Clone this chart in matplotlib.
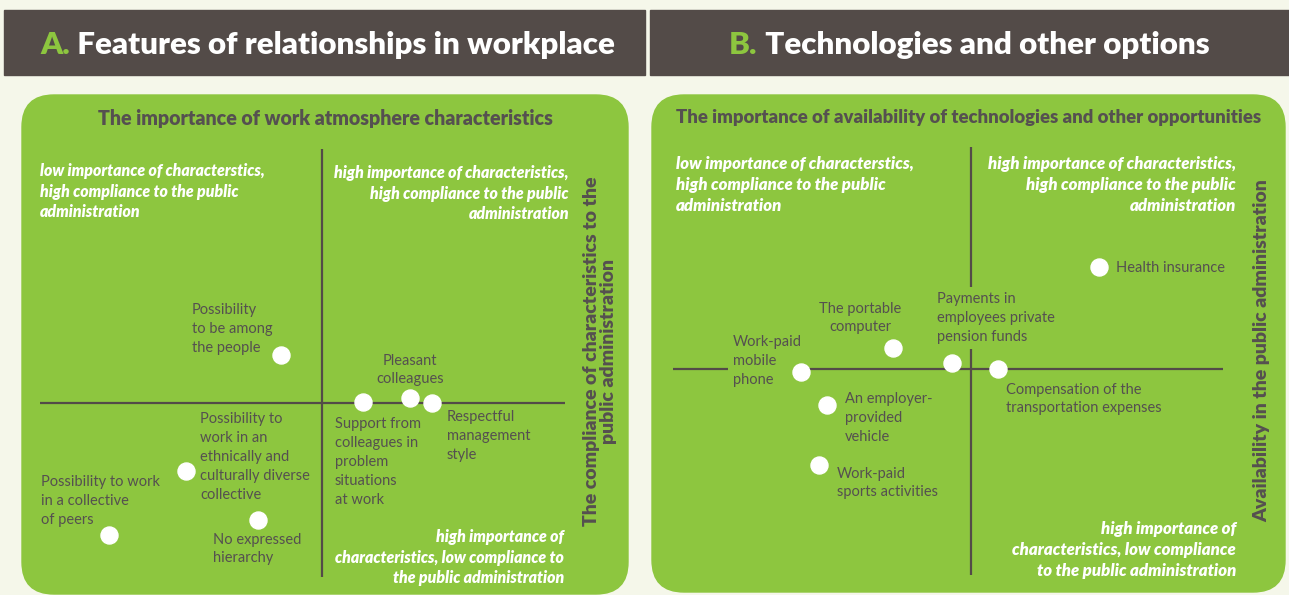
import matplotlib.pyplot as plt
from matplotlib.patches import Rectangle, FancyBboxPatch

# --- data: quadrant positions (importance -> x, compliance/availability -> y)
work_labels = ['Possibility\nto be among\nthe people',
               'Support from\ncolleagues in\nproblem\nsituations\nat work',
               'Pleasant\ncolleagues',
               'Respectful\nmanagement\nstyle',
               'Possibility to\nwork in an\nethnically and\nculturally diverse\ncollective',
               'No expressed\nhierarchy',
               'Possibility to work\nin a collective\nof peers']
work_x = [-0.41, 0.41, 0.88, 1.10, -1.36, -0.64, -2.13]
work_y = [0.48, 0.01, 0.05, 0.00, -0.68, -1.17, -1.32]

tech_labels = ['Work-paid\nmobile\nphone',
               'The portable\ncomputer',
               'Payments in\nemployees private\npension funds',
               'Health insurance',
               'Compensation of the\ntransportation expenses',
               'An employer-\nprovided\nvehicle',
               'Work-paid\nsports activities']
tech_x = [-1.70, -0.78, -0.19, 1.28, 0.27, -1.44, -1.52]
tech_y = [-0.03, 0.21, 0.06, 1.02, 0.00, -0.36, -0.96]

# label placement (pixels from the dot): dx, dy, ha
work_pos = [(-89, 26, 'left'), (-28, -60, 'left'), (0, 28, 'center'), (15, -33, 'left'),
            (14, 14, 'left'), (-45, -29, 'left'), (-68, 34, 'left')]
tech_pos = [(-68, 11, 'left'), (-33, 30, 'center'), (-15, 45, 'left'), (17, -1, 'left'),
            (8, -30, 'left'), (18, -13, 'left'), (18, -18, 'left')]

GREEN = '#8dc63f'
DARK = '#534b48'
TXT = '#555050'
BG = '#f5f7ea'
W, H = 1289, 595

plt.rcParams['font.family'] = ['Lato', 'DejaVu Sans']

fig = plt.figure(figsize=(W / 100, H / 100), dpi=100)
fig.patch.set_facecolor(BG)
bg = fig.add_axes([0, 0, 1, 1])
bg.set_xlim(0, W)
bg.set_ylim(H, 0)
bg.axis('off')


def header(x0, x1, letter, title, tx, size):
    bg.add_patch(Rectangle((x0, 10), x1 - x0, 65, color=DARK, zorder=1))
    t = bg.text(tx, 45, letter, color=GREEN, fontsize=size, fontweight='heavy',
                va='center', ha='left', zorder=2)
    bg.annotate(' ' + title, xy=(1, 0), xycoords=t, va='bottom', ha='left',
                color='white', fontsize=size, fontweight='heavy', zorder=2)


def panel(x0, x1, y1, title, tsize, side, side_x):
    bg.add_patch(FancyBboxPatch((x0, 95), x1 - x0, y1 - 95,
                                boxstyle='round,pad=0,rounding_size=32',
                                color=GREEN, zorder=1))
    bg.text((x0 + x1) / 2, 118, title, color=TXT, fontsize=tsize, fontweight='heavy',
            ha='center', va='center', zorder=2)
    bg.text(side_x, 351, side, color=TXT, fontsize=14, fontweight='heavy',
            rotation=90, ha='center', va='center', zorder=2, linespacing=1.05)


def quad_text(x, y, s, ha, size, ls):
    bg.text(x, y, s, color='white', fontsize=size, fontweight='heavy', style='italic',
            ha=ha, va='top', linespacing=ls, zorder=2)


def quadrant(box, xlim, ylim, xs, ys, labels, pos):
    x0, y0, x1, y1 = box
    ax = fig.add_axes([x0 / W, 1 - y1 / H, (x1 - x0) / W, (y1 - y0) / H])
    ax.set_xlim(*xlim)
    ax.set_ylim(*ylim)
    ax.axis('off')
    ax.patch.set_visible(False)
    ax.axhline(0, color=DARK, lw=1.6, zorder=1)
    ax.axvline(0, color=DARK, lw=1.6, zorder=1)
    ax.scatter(xs, ys, s=150, color='white', zorder=4, clip_on=False)
    for x, y, s, (dx, dy, ha) in zip(xs, ys, labels, pos):
        ax.annotate(s, (x, y), xytext=(dx, dy), textcoords='offset pixels',
                    ha=ha, va='center', color=TXT, fontsize=10.5, linespacing=1.45,
                    zorder=3,
                    bbox=dict(boxstyle='square,pad=0.35', fc=GREEN, ec='none'))
    return ax


# headers
header(4, 645, 'A.', 'Features of relationships in workplace', 40, 22.5)
header(650, 1289, 'B.', 'Technologies and other options', 729, 22.5)

# A
panel(22, 628, 594, 'The importance of work atmosphere characteristics', 14.1,
      'The compliance of characteristics to the\npublic administration', 600)
quad_text(40, 163, 'low importance of characterstics,\nhigh compliance to the public\nadministration', 'left', 11.4, 1.36)
quad_text(569, 165, 'high importance of characteristics,\nhigh compliance to the public\nadministration', 'right', 11.4, 1.36)
quad_text(564, 529, 'high importance of\ncharacteristics, low compliance to\nthe public administration', 'right', 11.4, 1.36)
quadrant((40, 149, 565, 577), (-2.82, 2.43), (-1.74, 2.54), work_x, work_y, work_labels, work_pos)

# B
panel(652, 1285, 592, 'The importance of availability of technologies and other opportunities', 13.3,
      'Availability in the public administration', 1262)
quad_text(676, 156, 'low importance of characterstics,\nhigh compliance to the public\nadministration', 'left', 12.1, 1.39)
quad_text(1236, 156, 'high importance of characteristics,\nhigh compliance to the public\nadministration', 'right', 12.1, 1.39)
quad_text(1236, 521, 'high importance of\ncharacteristics, low compliance\nto the public administration', 'right', 12.1, 1.39)
quadrant((673, 147, 1223, 575), (-2.98, 2.52), (-2.06, 2.22), tech_x, tech_y, tech_labels, tech_pos)

fig.savefig('out.png', dpi=100, facecolor=BG)
